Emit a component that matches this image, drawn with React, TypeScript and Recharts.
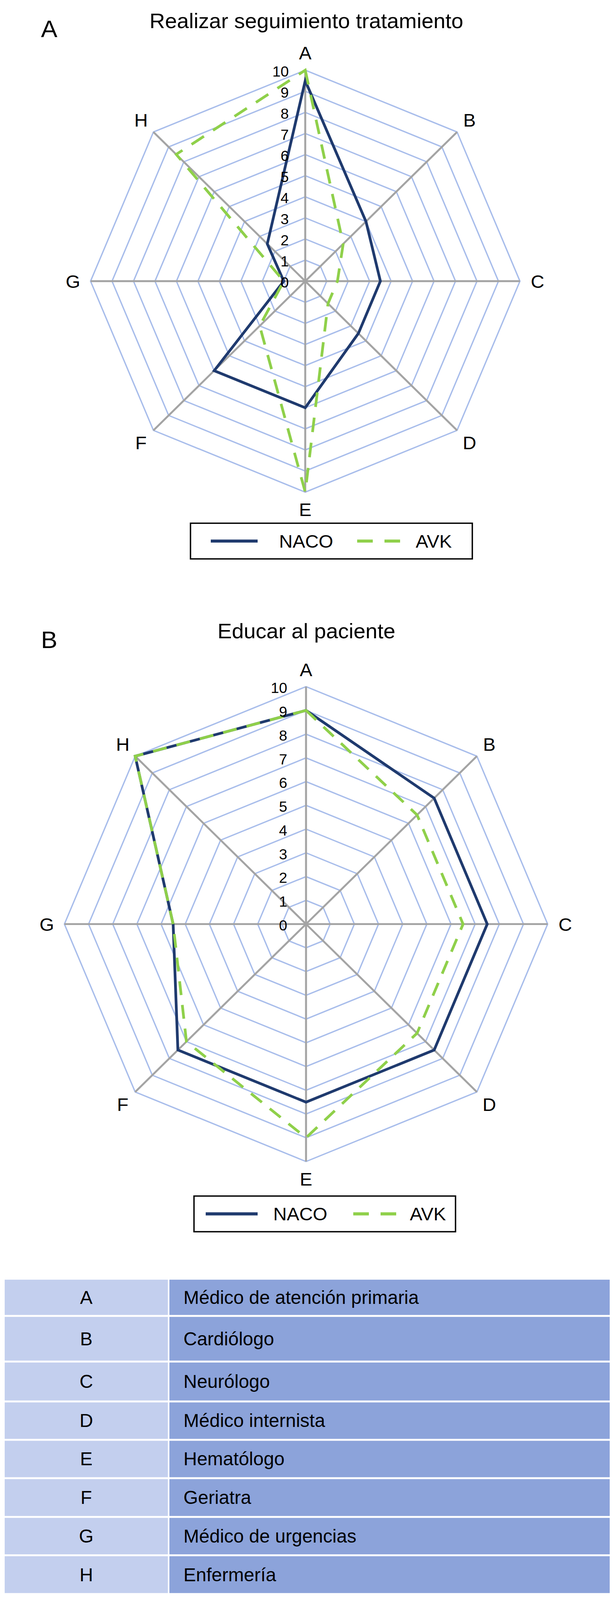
import React from 'react';
import { RadarChart, Radar, PolarGrid, PolarAngleAxis, PolarRadiusAxis } from 'recharts';

const FONT = '"Liberation Sans", Arial, Helvetica, sans-serif';

// ---- data ----
const categories = ['A', 'B', 'C', 'D', 'E', 'F', 'G', 'H'];
const radiusTicks = [0, 1, 2, 3, 4, 5, 6, 7, 8, 9, 10];
const seriesNames = ['NACO', 'AVK'];
const titles = ['Realizar seguimiento tratamiento', 'Educar al paciente'];
const panelLetters = ['A', 'B'];

const nacoSeguimiento = [9.5, 4, 3.5, 3.5, 6, 6, 1, 2.5];
const avkSeguimiento = [10, 2.5, 1.5, 1.5, 10, 3, 1, 8.5];

const nacoEducar = [9, 7.5, 7.5, 7.5, 7.5, 7.5, 5.5, 10];
const avkEducar = [9, 6.5, 6.5, 6.5, 9, 7, 5.5, 10];

const roles = [
  'Médico de atención primaria',
  'Cardiólogo',
  'Neurólogo',
  'Médico internista',
  'Hematólogo',
  'Geriatra',
  'Médico de urgencias',
  'Enfermería',
];

// ---- styles ----
const NAVY = '#1f3a6e';
const GREEN = '#8fd04a';
const RING = '#a8bdeb';
const SPOKE = '#a4a4a4';
const FIT_Y = 0.982;

const buildData = (naco: number[], avk: number[]) =>
  categories.map((c, i) => ({ cat: c, naco: naco[i], avk: avk[i] }));

const dataA = buildData(nacoSeguimiento, avkSeguimiento);
const dataB = buildData(nacoEducar, avkEducar);

type PanelProps = {
  data: any[];
  width: number;
  height: number;
  cx: number;
  cy: number;
  r: number;
  labelFont: number;
  tickFont: number;
  tickGap: number;
  dash: string;
};

function Panel({ data, width, height, cx, cy, r, labelFont, tickFont, tickGap, dash }: PanelProps) {
  const angleTick = (props: any) => {
    const { x, y, payload } = props;
    const dx = x - cx;
    const dy = y - cy;
    const len = Math.sqrt(dx * dx + dy * dy) || 1;
    const d = r + 45;
    const tx = cx + (dx / len) * d;
    const ty = cy + (dy / len) * d;
    return (
      <text
        x={tx}
        y={ty + labelFont * 0.36}
        textAnchor="middle"
        fontSize={labelFont}
        fontFamily={FONT}
        fill="#000"
      >
        {payload.value}
      </text>
    );
  };
  const radiusTick = (props: any) => {
    const { x, y, payload } = props;
    return (
      <text
        x={x - tickGap}
        y={y + tickFont * 0.36 + 3}
        textAnchor="end"
        fontSize={tickFont}
        fontFamily={FONT}
        fill="#000"
      >
        {payload.value}
      </text>
    );
  };
  return (
    <RadarChart
      width={width}
      height={height}
      cx={cx}
      cy={cy}
      outerRadius={r}
      data={data}
      margin={{ top: 0, right: 0, bottom: 0, left: 0 }}
    >
      <PolarGrid gridType="polygon" radialLines={false} stroke={RING} strokeWidth={3.5} />
      <PolarGrid gridType="polygon" polarRadius={[]} stroke={SPOKE} strokeWidth={5} />
      <PolarAngleAxis dataKey="cat" tick={angleTick} tickLine={false} axisLine={false} />
      <PolarRadiusAxis
        angle={90}
        domain={[0, 10]}
        ticks={radiusTicks}
        tickCount={11}
        tick={radiusTick}
        axisLine={false}
        tickLine={false}
      />
      <Radar
        name={seriesNames[0]}
        dataKey="naco"
        stroke={NAVY}
        strokeWidth={7}
        fill="none"
        fillOpacity={0}
        dot={false}
        strokeLinejoin="miter"
        isAnimationActive={false}
      />
      <Radar
        name={seriesNames[1]}
        dataKey="avk"
        stroke={GREEN}
        strokeWidth={7}
        strokeDasharray={dash}
        fill="none"
        fillOpacity={0}
        dot={false}
        strokeLinejoin="miter"
        isAnimationActive={false}
      />
    </RadarChart>
  );
}

type LegendProps = {
  x: number;
  y: number;
  w: number;
  h: number;
  line: [number, number];
  nacoX: number;
  dashLine: [number, number];
  avkX: number;
};

function LegendBox({ x, y, w, h, line, nacoX, dashLine, avkX }: LegendProps) {
  const cyL = y + h / 2;
  const fs = 48;
  return (
    <g>
      <rect x={x} y={y} width={w} height={h} fill="#fff" stroke="#000" strokeWidth={3.5} />
      <line x1={line[0]} x2={line[1]} y1={cyL} y2={cyL} stroke={NAVY} strokeWidth={8} />
      <text x={nacoX} y={cyL + fs * 0.36} fontSize={fs} fontFamily={FONT} fill="#000">
        {seriesNames[0]}
      </text>
      <line
        x1={dashLine[0]}
        x2={dashLine[1]}
        y1={cyL}
        y2={cyL}
        stroke={GREEN}
        strokeWidth={8}
        strokeDasharray="40 30"
      />
      <text x={avkX} y={cyL + fs * 0.36} fontSize={fs} fontFamily={FONT} fill="#000">
        {seriesNames[1]}
      </text>
    </g>
  );
}

const rowTops = [3336, 3433, 3552, 3656, 3756, 3856, 3957, 4057];
const tableBottom = 4158;

export default function App() {
  return (
    <div
      style={{
        position: 'absolute',
        left: 0,
        top: 0,
        width: 1573,
        height: 4167,
        background: '#fff',
        fontFamily: FONT,
        transform: `scale(1, ${FIT_Y})`,
        transformOrigin: '0 0',
      }}
    >
      <div style={{ position: 'absolute', left: 0, top: 0 }}>
        <Panel
          data={dataA}
          width={1573}
          height={1360}
          cx={782}
          cy={733}
          r={550}
          labelFont={48}
          tickFont={38}
          tickGap={42}
          dash="38 28"
        />
      </div>
      <div style={{ position: 'absolute', left: 0, top: 1700 }}>
        <Panel
          data={dataB}
          width={1573}
          height={1410}
          cx={784}
          cy={709}
          r={619}
          labelFont={48}
          tickFont={38}
          tickGap={48}
          dash="36 26"
        />
      </div>

      <svg
        width={1573}
        height={3300}
        style={{ position: 'absolute', left: 0, top: 0, pointerEvents: 'none' }}
      >
        <text x={105} y={97} fontSize={63} fontFamily={FONT} fill="#000">
          {panelLetters[0]}
        </text>
        <text x={785} y={73} fontSize={55} fontFamily={FONT} fill="#000" textAnchor="middle">
          {titles[0]}
        </text>
        <LegendBox
          x={488}
          y={1364}
          w={722}
          h={93}
          line={[540, 660]}
          nacoX={715}
          dashLine={[915, 1025]}
          avkX={1065}
        />

        <text x={105} y={1689} fontSize={63} fontFamily={FONT} fill="#000">
          {panelLetters[1]}
        </text>
        <text x={785} y={1664} fontSize={55} fontFamily={FONT} fill="#000" textAnchor="middle">
          {titles[1]}
        </text>
        <LegendBox
          x={497}
          y={3118}
          w={670}
          h={93}
          line={[527, 660]}
          nacoX={700}
          dashLine={[905, 1015]}
          avkX={1050}
        />
      </svg>

      {categories.map((c, i) => {
        const top = rowTops[i];
        const bottom = i < rowTops.length - 1 ? rowTops[i + 1] : tableBottom;
        const h = bottom - top - 5;
        return (
          <React.Fragment key={c}>
            <div
              style={{
                position: 'absolute',
                left: 12,
                top,
                width: 418,
                height: h,
                background: '#c3cfee',
                display: 'flex',
                alignItems: 'center',
                justifyContent: 'center',
                fontSize: 48,
                color: '#000',
              }}
            >
              {c}
            </div>
            <div
              style={{
                position: 'absolute',
                left: 434,
                top,
                width: 1128,
                height: h,
                background: '#8ca3da',
                display: 'flex',
                alignItems: 'center',
                paddingLeft: 36,
                boxSizing: 'border-box',
                fontSize: 48,
                color: '#000',
              }}
            >
              {roles[i]}
            </div>
          </React.Fragment>
        );
      })}
    </div>
  );
}
